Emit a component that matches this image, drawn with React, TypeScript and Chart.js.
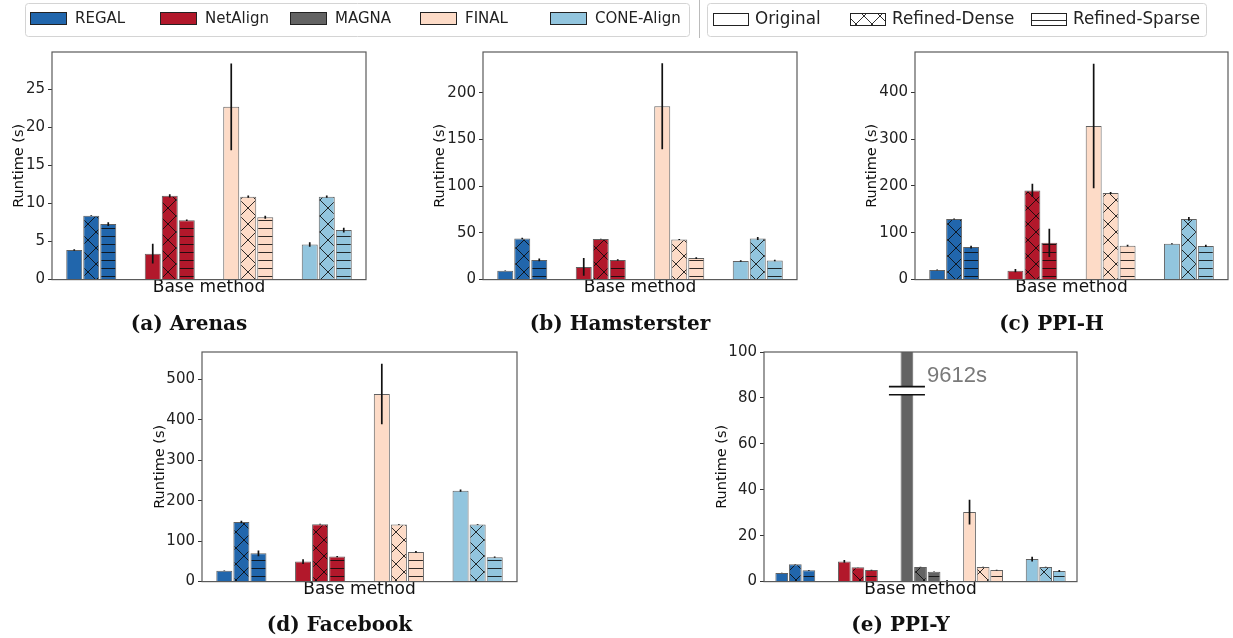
import React, { useEffect, useRef } from 'react';
import { Chart, registerables } from 'chart.js';

Chart.register(...registerables);
Chart.defaults.font.family = 'DejaVu Sans';

// ---------------- data ----------------
const METHODS_4 = ['REGAL', 'NetAlign', 'FINAL', 'CONE-Align'];
const METHODS_5 = ['REGAL', 'NetAlign', 'MAGNA', 'FINAL', 'CONE-Align'];
const LEGEND_METHODS = ['REGAL', 'NetAlign', 'MAGNA', 'FINAL', 'CONE-Align'];
const VARIANTS = ['Original', 'Refined-Dense', 'Refined-Sparse'];

const ARENAS_ORIGINAL = [3.9, 3.4, 22.7, 4.6];
const ARENAS_ORIGINAL_ERR = [0.1, 1.3, 5.7, 0.3];
const ARENAS_DENSE = [8.4, 11.0, 10.9, 10.9];
const ARENAS_DENSE_ERR = [0.05, 0.2, 0.15, 0.15];
const ARENAS_SPARSE = [7.3, 7.8, 8.2, 6.5];
const ARENAS_SPARSE_ERR = [0.25, 0.1, 0.2, 0.3];

const HAMSTER_ORIGINAL = [9.5, 13.5, 185.5, 20];
const HAMSTER_ORIGINAL_ERR = [0.3, 9.5, 46, 0.8];
const HAMSTER_DENSE = [44, 43.5, 43, 44];
const HAMSTER_DENSE_ERR = [0.8, 0.3, 0.5, 1.5];
const HAMSTER_SPARSE = [21, 21, 23, 20.5];
const HAMSTER_SPARSE_ERR = [1.5, 0.8, 1, 0.8];

const PPIH_ORIGINAL = [20.5, 19, 328, 76.5];
const PPIH_ORIGINAL_ERR = [0.8, 3.5, 133, 1];
const PPIH_DENSE = [129.5, 190.5, 185, 129.5];
const PPIH_DENSE_ERR = [1, 14, 2, 4];
const PPIH_SPARSE = [69.5, 78.5, 72.5, 72];
const PPIH_SPARSE_ERR = [3, 30, 2, 2.5];

const FACEBOOK_ORIGINAL = [27, 49.5, 464, 225];
const FACEBOOK_ORIGINAL_ERR = [0.5, 6, 75, 3];
const FACEBOOK_DENSE = [147.5, 142, 141.5, 141.5];
const FACEBOOK_DENSE_ERR = [3, 1, 0.8, 0.8];
const FACEBOOK_SPARSE = [70, 62, 73.5, 60.5];
const FACEBOOK_SPARSE_ERR = [7, 1.5, 2, 1.5];

const PPIY_ORIGINAL = [3.8, 8.8, 9612, 30.3, 9.8];
const PPIY_ORIGINAL_ERR = [0.1, 0.6, 0, 5.4, 1];
const PPIY_DENSE = [7.6, 6.3, 6.4, 6.4, 6.4];
const PPIY_DENSE_ERR = [0.1, 0.1, 0.1, 0.1, 0.1];
const PPIY_SPARSE = [4.9, 5.0, 4.3, 5.0, 4.6];
const PPIY_SPARSE_ERR = [0.2, 0.2, 0.1, 0.2, 0.4];

const ARENAS_TICK_STEP = 5;
const HAMSTER_TICK_STEP = 50;
const PPIH_TICK_STEP = 100;
const FACEBOOK_TICK_STEP = 100;
const PPIY_TICK_STEP = 20;

const ARENAS_Y_MAX = 29.9;
const HAMSTER_Y_MAX = 243.5;
const PPIH_Y_MAX = 486;
const FACEBOOK_Y_MAX = 568;
const PPIY_Y_MAX = 100;

// axis break on the MAGNA bar (PPI-Y)
const BREAK_LOW = 81.4;
const BREAK_HIGH = 84.9;
const BREAK_LABEL_VALUE = 89.4;

// ---------------- styles ----------------
const METHOD_COLORS: Record<string, string> = {
  REGAL: '#2166ac',
  NetAlign: '#b2182b',
  MAGNA: '#636363',
  FINAL: '#fddbc7',
  'CONE-Align': '#92c5de',
};
const HATCHES = ['none', 'cross', 'hline'];

const patternCache: Record<string, any> = {};
function fillFor(color: string, kind: string): any {
  if (kind === 'none') return color;
  const key = color + kind;
  if (patternCache[key]) return patternCache[key];
  const c = document.createElement('canvas');
  const s = kind === 'cross' ? 16 : 8;
  c.width = s;
  c.height = s;
  const g = c.getContext('2d')!;
  g.fillStyle = color;
  g.fillRect(0, 0, s, s);
  g.strokeStyle = 'rgba(10,10,10,0.85)';
  g.lineWidth = 1;
  g.beginPath();
  if (kind === 'cross') {
    for (const o of [-s, 0, s]) {
      g.moveTo(o, 0);
      g.lineTo(o + s, s);
      g.moveTo(o + s, 0);
      g.lineTo(o, s);
    }
  } else {
    g.moveTo(0, 4.5);
    g.lineTo(s, 4.5);
  }
  g.stroke();
  const p = g.createPattern(c, 'repeat');
  patternCache[key] = p;
  return p;
}

type Panel = {
  caption: string;
  categories: string[];
  values: number[][];
  errors: number[][];
  yMax: number;
  step: number;
  brokenIndex?: number;
  box: { left: number; top: number; width: number; height: number; padL: number; padR: number; padT: number; padB: number; yTitlePad: number; capPad: number };
};

const PANELS: Panel[] = [
  {
    caption: '(a) Arenas',
    categories: METHODS_4,
    values: [ARENAS_ORIGINAL, ARENAS_DENSE, ARENAS_SPARSE],
    errors: [ARENAS_ORIGINAL_ERR, ARENAS_DENSE_ERR, ARENAS_SPARSE_ERR],
    yMax: ARENAS_Y_MAX,
    step: ARENAS_TICK_STEP,
    box: { left: 0, top: 40, width: 380, height: 300, padL: 12, padR: 14, padT: 6, padB: 3.4, yTitlePad: -1.8, capPad: 9 },
  },
  {
    caption: '(b) Hamsterster',
    categories: METHODS_4,
    values: [HAMSTER_ORIGINAL, HAMSTER_DENSE, HAMSTER_SPARSE],
    errors: [HAMSTER_ORIGINAL_ERR, HAMSTER_DENSE_ERR, HAMSTER_SPARSE_ERR],
    yMax: HAMSTER_Y_MAX,
    step: HAMSTER_TICK_STEP,
    box: { left: 420, top: 40, width: 390, height: 300, padL: 23, padR: 13, padT: 6, padB: 3.4, yTitlePad: -11.8, capPad: 9 },
  },
  {
    caption: '(c) PPI-H',
    categories: METHODS_4,
    values: [PPIH_ORIGINAL, PPIH_DENSE, PPIH_SPARSE],
    errors: [PPIH_ORIGINAL_ERR, PPIH_DENSE_ERR, PPIH_SPARSE_ERR],
    yMax: PPIH_Y_MAX,
    step: PPIH_TICK_STEP,
    box: { left: 860, top: 40, width: 373, height: 300, padL: 15, padR: 5, padT: 6, padB: 3.4, yTitlePad: -11.8, capPad: 9 },
  },
  {
    caption: '(d) Facebook',
    categories: METHODS_4,
    values: [FACEBOOK_ORIGINAL, FACEBOOK_DENSE, FACEBOOK_SPARSE],
    errors: [FACEBOOK_ORIGINAL_ERR, FACEBOOK_DENSE_ERR, FACEBOOK_SPARSE_ERR],
    yMax: FACEBOOK_Y_MAX,
    step: FACEBOOK_TICK_STEP,
    box: { left: 140, top: 340, width: 390, height: 298, padL: 22, padR: 13, padT: 7, padB: 0.4, yTitlePad: -10.8, capPad: 8 },
  },
  {
    caption: '(e) PPI-Y',
    categories: METHODS_5,
    values: [PPIY_ORIGINAL, PPIY_DENSE, PPIY_SPARSE],
    errors: [PPIY_ORIGINAL_ERR, PPIY_DENSE_ERR, PPIY_SPARSE_ERR],
    yMax: PPIY_Y_MAX,
    step: PPIY_TICK_STEP,
    brokenIndex: 2,
    box: { left: 700, top: 340, width: 390, height: 298, padL: 24, padR: 13, padT: 7, padB: 0.4, yTitlePad: -10.8, capPad: 8 },
  },
];

// ---------------- plugins ----------------
const framePlugin = {
  id: 'frame',
  afterDraw(chart: any) {
    const { ctx, chartArea: a } = chart;
    ctx.save();
    ctx.strokeStyle = '#5a5a5a';
    ctx.lineWidth = 1.2;
    ctx.strokeRect(a.left, a.top, a.right - a.left, a.bottom - a.top);
    ctx.restore();
  },
};

const errorBarPlugin = {
  id: 'errorBars',
  afterDatasetsDraw(chart: any) {
    const { ctx, chartArea: a } = chart;
    const y = chart.scales.y;
    ctx.save();
    ctx.beginPath();
    ctx.rect(a.left, a.top, a.right - a.left, a.bottom - a.top);
    ctx.clip();
    ctx.strokeStyle = '#111';
    ctx.lineWidth = 1.7;
    chart.data.datasets.forEach((ds: any, i: number) => {
      const meta = chart.getDatasetMeta(i);
      meta.data.forEach((el: any, j: number) => {
        const v = ds.data[j];
        const e = ds.errors[j];
        if (!e || v > y.max) return;
        ctx.beginPath();
        ctx.moveTo(el.x, y.getPixelForValue(v + e));
        ctx.lineTo(el.x, y.getPixelForValue(Math.max(0, v - e)));
        ctx.stroke();
      });
    });
    ctx.restore();
  },
};

const breakPlugin = {
  id: 'axisBreak',
  afterDatasetsDraw(chart: any, _args: any, opts: any) {
    if (opts.index === undefined) return;
    const { ctx } = chart;
    const y = chart.scales.y;
    const el = chart.getDatasetMeta(0).data[opts.index];
    const value = chart.data.datasets[0].data[opts.index];
    const y1 = y.getPixelForValue(BREAK_HIGH);
    const y2 = y.getPixelForValue(BREAK_LOW);
    const half = el.width / 2;
    ctx.save();
    ctx.fillStyle = '#ffffff';
    ctx.fillRect(el.x - half - 1, y1, el.width + 2, y2 - y1);
    ctx.strokeStyle = '#111';
    ctx.lineWidth = 1.6;
    ctx.beginPath();
    ctx.moveTo(el.x - 18, y1);
    ctx.lineTo(el.x + 18, y1);
    ctx.moveTo(el.x - 18, y2);
    ctx.lineTo(el.x + 18, y2);
    ctx.stroke();
    ctx.fillStyle = '#7a7a7a';
    ctx.font = '22px "Liberation Sans", Arial, sans-serif';
    ctx.textAlign = 'left';
    ctx.textBaseline = 'middle';
    ctx.fillText(`${value}s`, el.x + 20, y.getPixelForValue(BREAK_LABEL_VALUE));
    ctx.restore();
  },
};

const legendPlugin = {
  id: 'figureLegend',
  afterDraw(chart: any) {
    const { ctx } = chart;
    ctx.save();
    const frame = (x: number, w: number) => {
      ctx.beginPath();
      ctx.roundRect(x + 0.5, 3.5, w, 33, 3);
      ctx.fillStyle = '#ffffff';
      ctx.fill();
      ctx.strokeStyle = '#d4d4d4';
      ctx.lineWidth = 1;
      ctx.stroke();
    };
    frame(25, 664);
    frame(707, 499);
    ctx.strokeStyle = '#bbbbbb';
    ctx.beginPath();
    ctx.moveTo(699.5, 0);
    ctx.lineTo(699.5, 38);
    ctx.stroke();

    ctx.textBaseline = 'middle';
    ctx.textAlign = 'left';
    LEGEND_METHODS.forEach((m, i) => {
      const x = 30 + i * 130;
      ctx.fillStyle = METHOD_COLORS[m];
      ctx.fillRect(x, 12, 37, 13);
      ctx.strokeStyle = '#222';
      ctx.lineWidth = 1;
      ctx.strokeRect(x + 0.5, 12.5, 36, 12);
      ctx.fillStyle = '#222';
      ctx.font = '15px "DejaVu Sans"';
      ctx.fillText(m, x + 45, 19);
    });
    const vx = [713, 850, 1031];
    VARIANTS.forEach((v, i) => {
      const x = vx[i];
      ctx.fillStyle = fillFor('#ffffff', HATCHES[i]);
      ctx.fillRect(x, 13, 36, 13);
      ctx.strokeStyle = '#222';
      ctx.lineWidth = 1;
      ctx.strokeRect(x + 0.5, 13.5, 35, 12);
      ctx.fillStyle = '#222';
      ctx.font = '16.8px "DejaVu Sans"';
      ctx.fillText(v, x + 42, 19.5);
    });
    ctx.restore();
  },
};

function buildConfig(p: Panel): any {
  const b = p.box;
  return {
    type: 'bar',
    data: {
      labels: p.categories,
      datasets: VARIANTS.map((v, vi) => ({
        label: v,
        data: p.values[vi],
        errors: p.errors[vi],
        backgroundColor: p.categories.map((m) => fillFor(METHOD_COLORS[m], HATCHES[vi])),
        borderColor: 'rgba(0,0,0,0.62)',
        borderWidth: 1,
        categoryPercentage: 0.65,
        barPercentage: 0.94,
      })),
    },
    options: {
      animation: false,
      responsive: false,
      maintainAspectRatio: false,
      devicePixelRatio: 1,
      events: [],
      layout: { padding: { left: b.padL, right: b.padR, top: b.padT, bottom: b.padB } },
      plugins: {
        legend: { display: false },
        tooltip: { enabled: false },
        title: {
          display: true,
          position: 'bottom',
          text: p.caption,
          color: '#111',
          font: { family: '"DejaVu Serif"', weight: 'bold', size: 20 },
          padding: { top: b.capPad, bottom: 0 },
        },
        axisBreak: { index: p.brokenIndex },
      },
      scales: {
        x: {
          grid: { display: false },
          ticks: { display: false },
          border: { display: false },
          title: {
            display: true,
            text: 'Base method',
            color: '#111',
            font: { size: 17 },
            padding: { top: 0, bottom: 6 },
          },
          afterFit(s: any) {
            s.height = 24;
          },
        },
        y: {
          min: 0,
          max: p.yMax,
          ticks: { stepSize: p.step, includeBounds: false, color: '#222', font: { size: 15 }, padding: 3 },
          grid: { drawOnChartArea: false, drawTicks: true, tickLength: 4, color: '#333' },
          border: { display: false },
          title: {
            display: true,
            text: 'Runtime (s)',
            color: '#111',
            font: { size: 14.5 },
            padding: { top: b.yTitlePad, bottom: 0 },
          },
          afterFit(s: any) {
            s.width = 40;
          },
        },
      },
    },
    plugins: [framePlugin, errorBarPlugin, breakPlugin],
  };
}

function PanelChart({ panel }: { panel: Panel }) {
  const ref = useRef<HTMLCanvasElement>(null);
  useEffect(() => {
    const chart = new Chart(ref.current!, buildConfig(panel));
    return () => chart.destroy();
  }, [panel]);
  const b = panel.box;
  return (
    <canvas
      ref={ref}
      width={b.width}
      height={b.height}
      style={{ position: 'absolute', left: b.left, top: b.top, width: b.width, height: b.height, display: 'block' }}
    />
  );
}

function LegendChart() {
  const ref = useRef<HTMLCanvasElement>(null);
  useEffect(() => {
    const chart = new Chart(ref.current!, {
      type: 'bar',
      data: { labels: [], datasets: [] },
      options: {
        animation: false,
        responsive: false,
        maintainAspectRatio: false,
        devicePixelRatio: 1,
        events: [],
        plugins: { legend: { display: false }, tooltip: { enabled: false } },
        scales: { x: { display: false }, y: { display: false } },
      },
      plugins: [legendPlugin],
    } as any);
    return () => chart.destroy();
  }, []);
  return (
    <canvas
      ref={ref}
      width={1233}
      height={40}
      style={{ position: 'absolute', left: 0, top: 0, width: 1233, height: 40, display: 'block' }}
    />
  );
}

export default function App() {
  return (
    <div style={{ position: 'absolute', left: 0, top: 0, width: 1233, height: 638, background: '#fff', overflow: 'hidden' }}>
      <LegendChart />
      {PANELS.map((p) => (
        <PanelChart key={p.caption} panel={p} />
      ))}
    </div>
  );
}
